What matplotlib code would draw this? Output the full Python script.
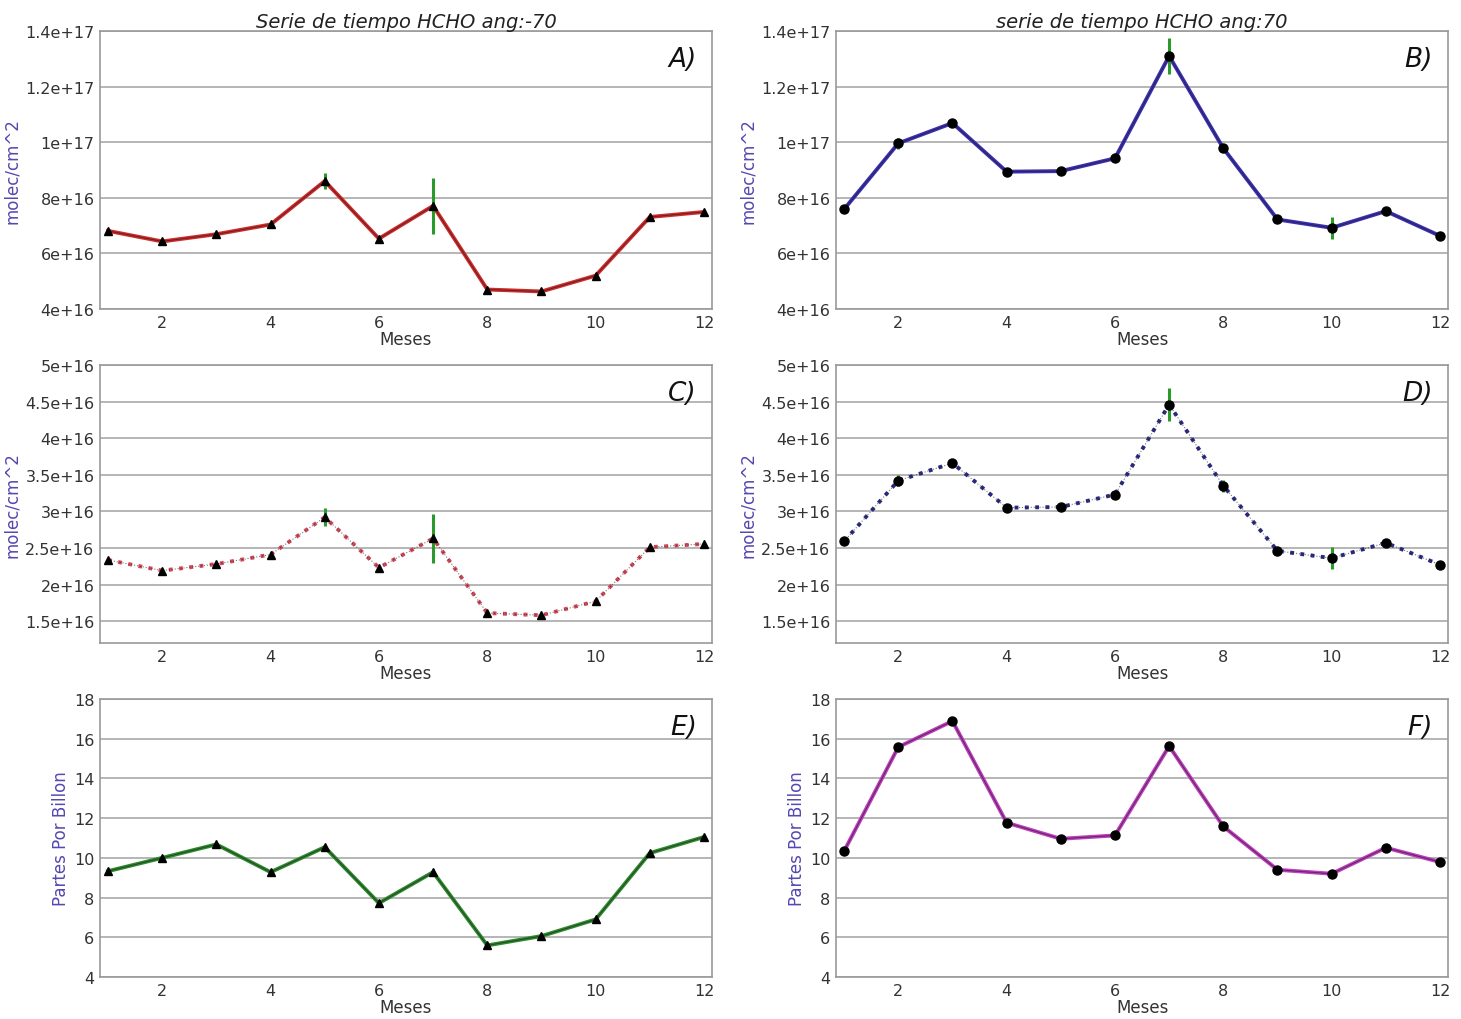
"""Serie de tiempo HCHO, ang -70 / ang 70 (seis paneles)
"""

# Import libraries
import numpy as np
import matplotlib
matplotlib.use("Agg")
import matplotlib.pyplot as plt
from matplotlib.ticker import FormatStrFormatter

# Define data
meses = [1, 2, 3, 4, 5, 6, 7, 8, 9, 10, 11, 12]

col_neg70 = [6.81e16, 6.43e16, 6.69e16, 7.04e16, 8.60e16, 6.53e16,
             7.71e16, 4.70e16, 4.63e16, 5.20e16, 7.31e16, 7.49e16]
col_neg70_err = [0, 0, 0, 0, 0.3e16, 0, 1.0e16, 0, 0, 0, 0, 0]

col_pos70 = [7.59e16, 9.96e16, 1.069e17, 8.94e16, 8.96e16, 9.42e16,
             1.31e17, 9.78e16, 7.22e16, 6.92e16, 7.52e16, 6.63e16]
col_pos70_err = [0, 0.2e16, 0.15e16, 0, 0, 0, 0.64e16, 0.15e16, 0, 0.4e16, 0, 0]

trop_neg70 = [2.335e16, 2.19e16, 2.28e16, 2.41e16, 2.92e16, 2.23e16,
              2.63e16, 1.61e16, 1.58e16, 1.77e16, 2.51e16, 2.555e16]
trop_neg70_err = [0, 0, 0, 0, 0.12e16, 0, 0.34e16, 0, 0, 0, 0, 0]

trop_pos70 = [2.59e16, 3.42e16, 3.66e16, 3.05e16, 3.06e16, 3.23e16,
              4.46e16, 3.35e16, 2.46e16, 2.36e16, 2.57e16, 2.27e16]
trop_pos70_err = [0, 0.08e16, 0.05e16, 0, 0, 0, 0.23e16, 0.08e16, 0, 0.15e16, 0, 0]

ppb_neg70 = [9.33, 10.0, 10.68, 9.28, 10.54, 7.72, 9.28, 5.59, 6.06, 6.90, 10.24, 11.05]
ppb_pos70 = [10.34, 15.58, 16.89, 11.77, 10.96, 11.13, 15.63, 11.58, 9.40, 9.20, 10.51, 9.79]

# Define panels: (values, errors, colour, linestyle, marker, label, ylim, yticks, ylabel)
ylab_col = "molec/cm^2"
ylab_ppb = "Partes Por Billon"
panels = [
    (col_neg70, col_neg70_err, "#d42a2a", "-", "^", "A)", (4e16, 1.4e17),
     np.arange(4e16, 1.41e17, 2e16), ylab_col),
    (col_pos70, col_pos70_err, "#3b2fb5", "-", "o", "B)", (4e16, 1.4e17),
     np.arange(4e16, 1.41e17, 2e16), ylab_col),
    (trop_neg70, trop_neg70_err, "#d04858", ":", "^", "C)", (1.2e16, 5e16),
     np.arange(1.5e16, 5.01e16, 0.5e16), ylab_col),
    (trop_pos70, trop_pos70_err, "#2a2a80", ":", "o", "D)", (1.2e16, 5e16),
     np.arange(1.5e16, 5.01e16, 0.5e16), ylab_col),
    (ppb_neg70, None, "#2e8b2e", "-", "^", "E)", (4, 18),
     np.arange(4, 18.1, 2), ylab_ppb),
    (ppb_pos70, None, "#c03cc0", "-", "o", "F)", (4, 18),
     np.arange(4, 18.1, 2), ylab_ppb),
]

titles = ["Serie de tiempo HCHO ang:-70", "serie de tiempo HCHO ang:70"]

# Axes positions in figure fractions
lefts = [0.0684, 0.5722]
bottoms = [0.6961, 0.3686, 0.0412]
heights = [0.2725, 0.2725, 0.2725]
width = 0.419

fig = plt.figure(figsize=(14.61, 10.20), dpi=100)

for i, (vals, errs, color, ls, mk, label, ylim, yticks, ylabel) in enumerate(panels):
    row, col = divmod(i, 2)
    ax = fig.add_axes([lefts[col], bottoms[row], width, heights[row]])

    # Coloured thick line with thin dark core
    ax.plot(meses, vals, color=color, linestyle=ls, linewidth=2.8, zorder=2)
    ax.plot(meses, vals, color="#202020", linestyle=ls, linewidth=0.8,
            alpha=0.6, zorder=3)
    if errs is not None:
        ax.errorbar(meses, vals, yerr=errs, fmt="none", ecolor="#2a9a2a",
                    elinewidth=2.2, capsize=0, zorder=4)
    ax.plot(meses, vals, linestyle="none", marker=mk, color="k",
            markersize=5.5 if mk == "^" else 6.5, zorder=5)

    ax.set_xlim(0.85, 12.15)
    ax.set_ylim(*ylim)
    ax.set_xticks([2, 4, 6, 8, 10, 12])
    ax.set_yticks(yticks)
    ax.yaxis.set_major_formatter(FormatStrFormatter("%g"))
    ax.yaxis.grid(True, color="#b0b0b0", linewidth=1.3, linestyle="-")
    ax.set_axisbelow(True)
    ax.tick_params(axis="both", labelsize=11.5, colors="#333333", length=0, pad=4)
    for sp in ax.spines.values():
        sp.set_color("#999999")
        sp.set_linewidth(1.2)

    ax.set_xlabel("Meses", fontsize=12, color="#333333", labelpad=0)
    ax.set_ylabel(ylabel, fontsize=12, color="#5548b0", labelpad=3)
    ax.text(0.975, 0.9, label, transform=ax.transAxes, ha="right", va="center",
            fontsize=19, style="italic", color="#111111")
    if row == 0:
        ax.set_title(titles[col], fontsize=14, style="italic", color="#222222", pad=3)

fig.savefig("out.png", dpi=100)
